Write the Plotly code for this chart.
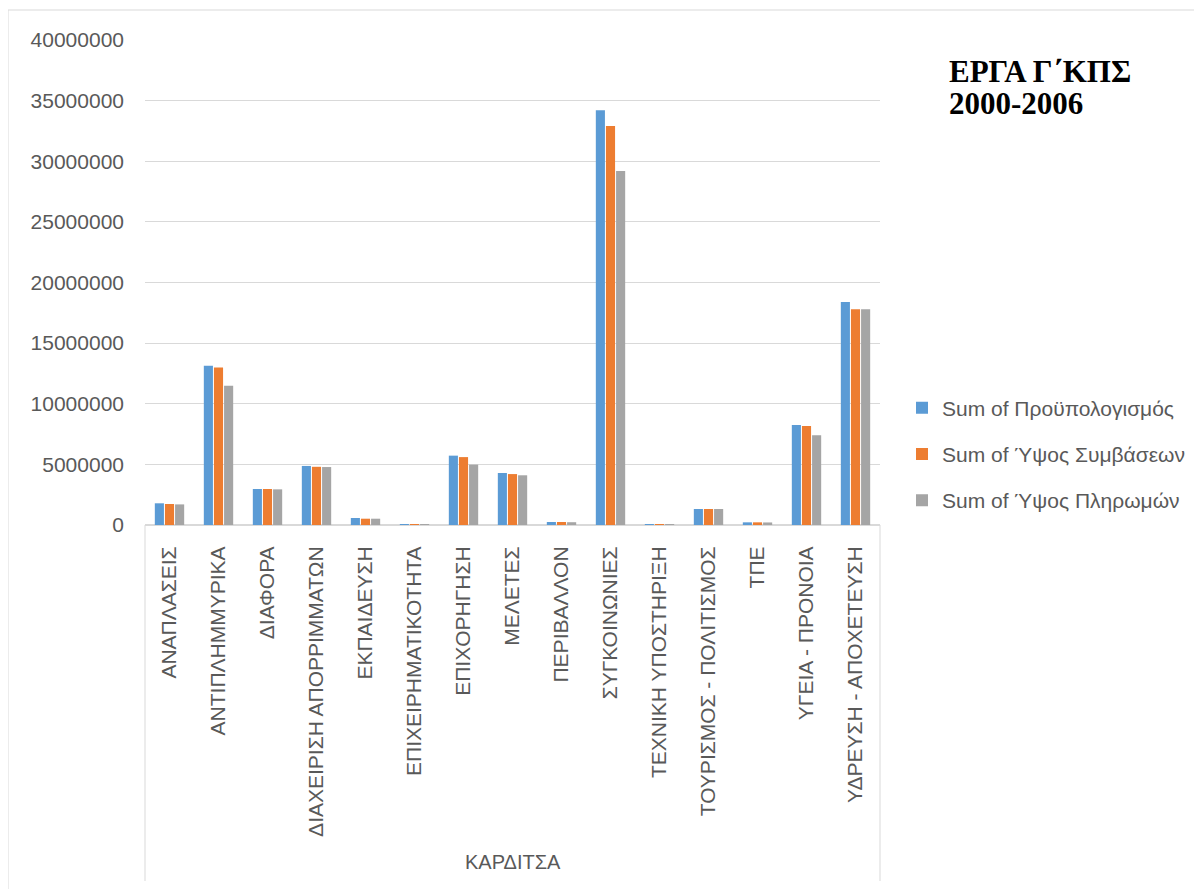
import plotly.graph_objects as go

categories = ["ΑΝΑΠΛΑΣΕΙΣ", "ΑΝΤΙΠΛΗΜΜΥΡΙΚΑ", "ΔΙΑΦΟΡΑ", "ΔΙΑΧΕΙΡΙΣΗ ΑΠΟΡΡΙΜΜΑΤΩΝ",
              "ΕΚΠΑΙΔΕΥΣΗ", "ΕΠΙΧΕΙΡΗΜΑΤΙΚΟΤΗΤΑ", "ΕΠΙΧΟΡΗΓΗΣΗ", "ΜΕΛΕΤΕΣ",
              "ΠΕΡΙΒΑΛΛΟΝ", "ΣΥΓΚΟΙΝΩΝΙΕΣ", "ΤΕΧΝΙΚΗ ΥΠΟΣΤΗΡΙΞΗ",
              "ΤΟΥΡΙΣΜΟΣ - ΠΟΛΙΤΙΣΜΟΣ", "ΤΠΕ", "ΥΓΕΙΑ - ΠΡΟΝΟΙΑ", "ΥΔΡΕΥΣΗ - ΑΠΟΧΕΤΕΥΣΗ"]

budget = [1790000, 13140000, 2970000, 4870000, 580000, 50000, 5720000, 4290000,
          250000, 34200000, 80000, 1320000, 220000, 8250000, 18400000]
contracts = [1730000, 13000000, 2970000, 4800000, 520000, 40000, 5600000, 4200000,
             250000, 32900000, 80000, 1320000, 220000, 8160000, 17800000]
payments = [1700000, 11490000, 2940000, 4780000, 520000, 30000, 4980000, 4100000,
            230000, 29200000, 70000, 1320000, 210000, 7400000, 17800000]

series_names = ["Sum of Προϋπολογισμός", "Sum of Ύψος Συμβάσεων", "Sum of Ύψος Πληρωμών"]
series_values = [budget, contracts, payments]
series_colors = ["#5B9BD5", "#ED7D31", "#A5A5A5"]

region_label = "ΚΑΡΔΙΤΣΑ"
title_lines = ["ΕΡΓΑ Γ΄ΚΠΣ", "2000-2006"]

# The page body has an 8px default margin, so the figure is 8px smaller and
# all positions below (given in window pixels) are shifted by that offset.
OFF = 8
W, H = 1202 - OFF, 889 - OFF
PLOT_L, PLOT_R, PLOT_T, PLOT_B = 145, 880, 40, 525  # window pixels
L, R, T, B = PLOT_L - OFF, W - (PLOT_R - OFF), PLOT_T - OFF, H - (PLOT_B - OFF)
PW, PH = W - L - R, H - T - B


def px(x):
    return (x - OFF - L) / PW


def py(y):
    return (H - B - (y - OFF)) / PH


fig = go.Figure()
for i, (name, vals, col) in enumerate(zip(series_names, series_values, series_colors)):
    fig.add_trace(go.Bar(x=categories, y=vals, name=name, marker=dict(color=col, line=dict(width=0)),
                         legendgroup=str(i)))

grid = "#D9D9D9"
txt = "#595959"
font_family = "Liberation Sans, Arial, sans-serif"
serif = "Liberation Serif, Times New Roman, serif"

fig.update_layout(
    width=W, height=H,
    margin=dict(l=L, r=R, t=T, b=B, autoexpand=False),
    paper_bgcolor="white", plot_bgcolor="white",
    barmode="group", bargap=0.38, bargroupgap=0.1,
    font=dict(family=font_family, color=txt),
    showlegend=True,
    legend=dict(x=px(902), y=py(454), xanchor="left", yanchor="middle",
                font=dict(size=21, color=txt, family=font_family),
                traceorder="grouped", tracegroupgap=16, bgcolor="rgba(0,0,0,0)"),
    xaxis=dict(type="category", showgrid=False, showline=True, linecolor=grid, linewidth=1,
               ticks="", tickangle=-90, tickfont=dict(size=21, color=txt, family=font_family),
               ticklabelstandoff=12, automargin=False, fixedrange=True),
    yaxis=dict(range=[0, 40000000], dtick=5000000, tickformat="d", showgrid=True,
               gridcolor=grid, gridwidth=1, showline=False, zeroline=True, zerolinecolor=grid,
               ticks="", tickfont=dict(size=21, color=txt, family=font_family),
               ticklabelstandoff=20, automargin=False, fixedrange=True),
    shapes=[
        dict(type="rect", xref="paper", yref="paper", x0=px(8), x1=px(1195), y0=py(900), y1=py(10),
             line=dict(color=grid, width=1), fillcolor="rgba(0,0,0,0)", layer="below"),
        dict(type="line", xref="paper", yref="paper", x0=0, x1=0, y0=0, y1=py(881),
             line=dict(color=grid, width=1)),
        dict(type="line", xref="paper", yref="paper", x0=1, x1=1, y0=0, y1=py(881),
             line=dict(color=grid, width=1)),
    ],
    annotations=[
        dict(text=region_label, xref="paper", yref="paper", x=0.5, y=py(862),
             xanchor="center", yanchor="middle", showarrow=False,
             font=dict(size=20, color=txt, family=font_family)),
        dict(text="<b>" + title_lines[0] + "</b>", xref="paper", yref="paper",
             x=px(947), y=py(52), xanchor="left", yanchor="top", align="left", showarrow=False,
             font=dict(size=31, color="black", family=serif)),
        dict(text="<b>" + title_lines[1] + "</b>", xref="paper", yref="paper",
             x=px(947), y=py(84), xanchor="left", yanchor="top", align="left", showarrow=False,
             font=dict(size=31, color="black", family=serif)),
    ],
)

fig.write_html("out.html")
